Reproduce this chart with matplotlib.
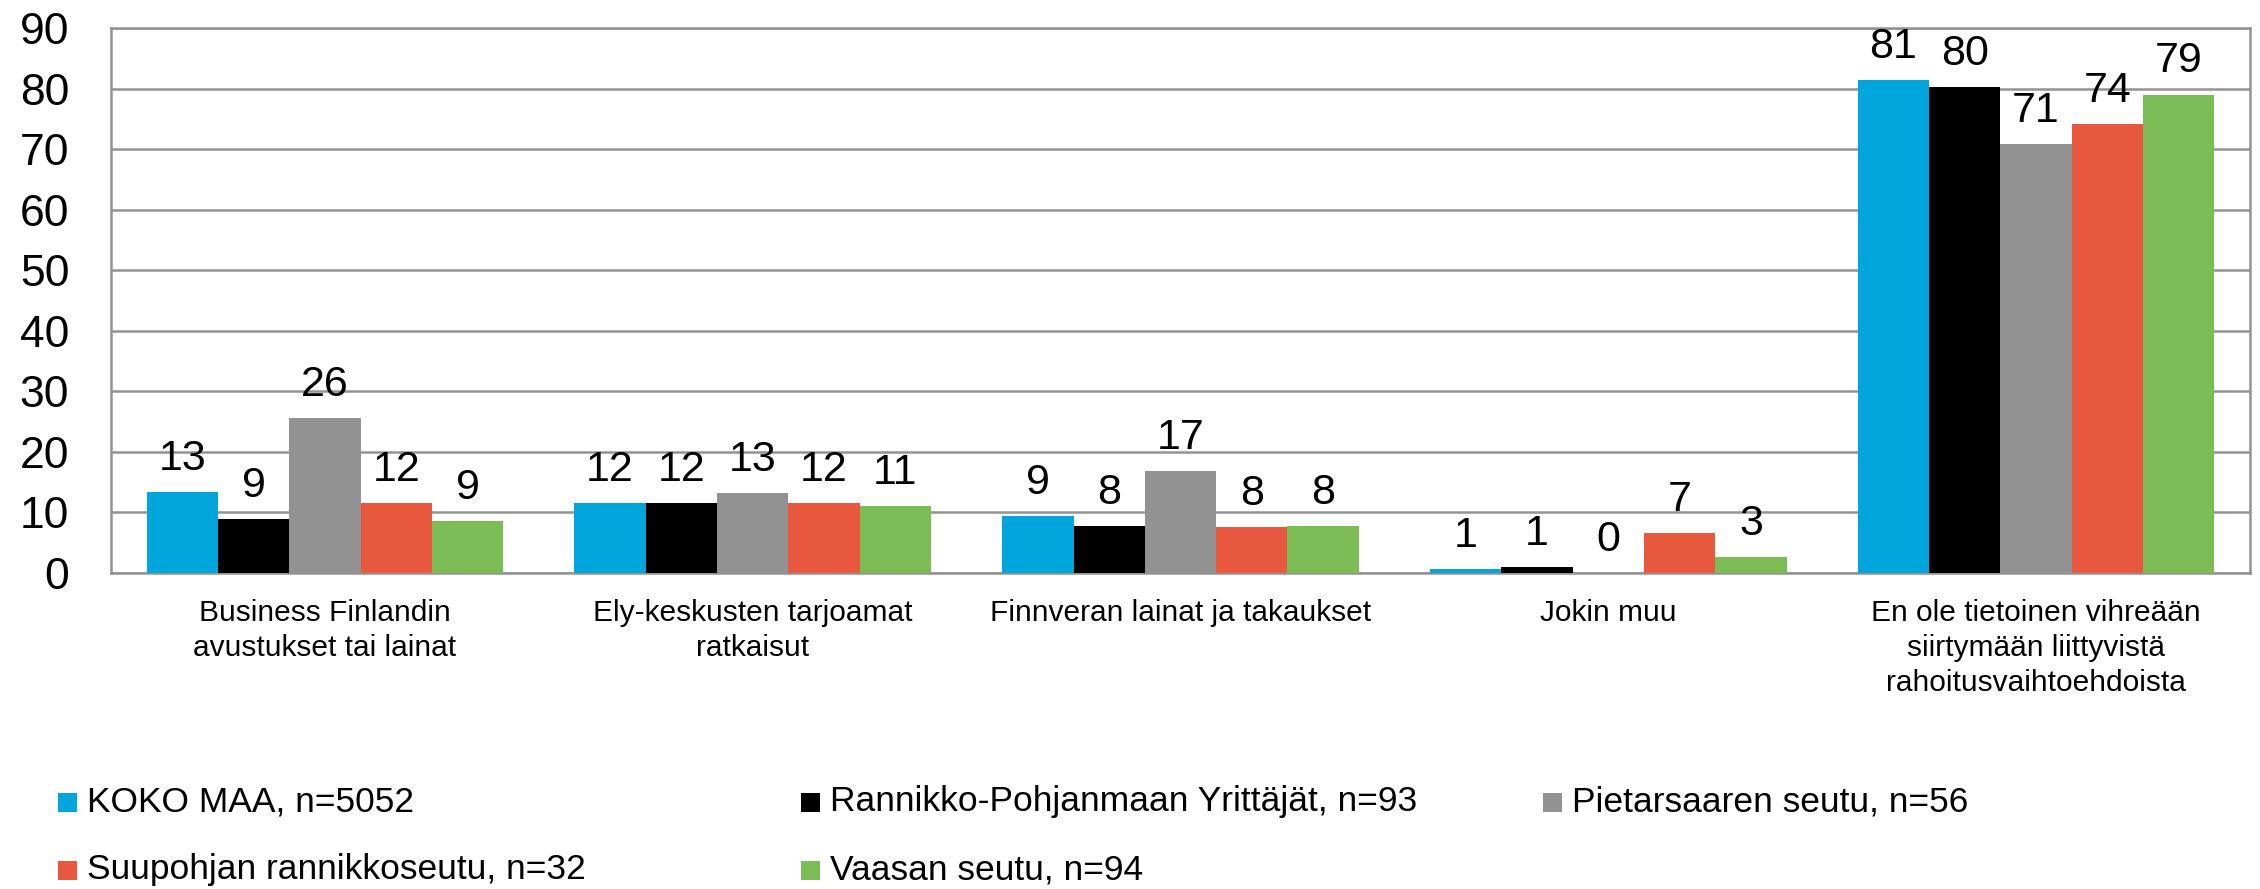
import matplotlib
matplotlib.use("Agg")
import matplotlib.pyplot as plt
import numpy as np
from matplotlib.patches import Rectangle

plt.rcParams['font.family'] = ['Liberation Sans', 'DejaVu Sans']

categories = [
    "Business Finlandin\navustukset tai lainat",
    "Ely-keskusten tarjoamat\nratkaisut",
    "Finnveran lainat ja takaukset",
    "Jokin muu",
    "En ole tietoinen vihreään\nsiirtymään liittyvistä\nrahoitusvaihtoehdoista",
]
series_names = [
    "KOKO MAA, n=5052",
    "Rannikko-Pohjanmaan Yrittäjät, n=93",
    "Pietarsaaren seutu, n=56",
    "Suupohjan rannikkoseutu, n=32",
    "Vaasan seutu, n=94",
]
koko_maa = [13.4, 11.6, 9.4, 0.6, 81.4]
rannikko = [8.9, 11.6, 7.8, 1.0, 80.2]
pietarsaari = [25.6, 13.2, 16.8, 0.0, 70.8]
suupohja = [11.6, 11.6, 7.6, 6.6, 74.1]
vaasa = [8.6, 11.1, 7.8, 2.6, 79.0]
series_values = [koko_maa, rannikko, pietarsaari, suupohja, vaasa]
colors = ["#00A5DB", "#000000", "#929292", "#E8583F", "#7BBC55"]
yticks = [0, 10, 20, 30, 40, 50, 60, 70, 80, 90]

W, H = 2260, 889
fig = plt.figure(figsize=(W / 100, H / 100), dpi=100)
ax = fig.add_axes([111 / W, 1 - 573 / H, (2250 - 111) / W, (573 - 28) / H])

x = np.arange(len(categories))
n = len(series_values)
w = 1.0 / (n + 1)
for i, (vals, col) in enumerate(zip(series_values, colors)):
    bars = ax.bar(x + (i - (n - 1) / 2) * w, vals, width=w, color=col,
                  zorder=3, linewidth=0)
    ax.bar_label(bars, labels=[f"{v:.0f}" for v in vals], padding=9.5,
                 fontsize=31, color="black")

ax.set_xlim(-0.5, len(categories) - 0.5)
ax.set_ylim(0, 90)
ax.set_yticks(yticks)
ax.set_yticklabels([str(t) for t in yticks], fontsize=32)
ax.set_xticks(x)
ax.set_xticklabels(categories, fontsize=21.5, linespacing=1.32)
ax.tick_params(axis='y', length=0, pad=30)
ax.tick_params(axis='x', length=0, pad=19)
ax.yaxis.grid(True, color="#939393", linewidth=1.8, zorder=0)
ax.set_axisbelow(True)
for s in ax.spines.values():
    s.set_color("#939393")
    s.set_linewidth(1.8)

# legend (Excel-style fixed columns)
col_x = [58, 801, 1543]
row_y = [802, 870]
msize = 19
for k, (name, col) in enumerate(zip(series_names, colors)):
    cx = col_x[k % 3]
    cy = row_y[k // 3]
    fig.add_artist(Rectangle((cx / W, 1 - (cy + msize / 2) / H), msize / W, msize / H,
                             transform=fig.transFigure, facecolor=col, edgecolor='none'))
    fig.text((cx + msize + 10) / W, 1 - cy / H, name, fontsize=25.5,
             va='center', ha='left')

fig.savefig("out.png", dpi=100)
